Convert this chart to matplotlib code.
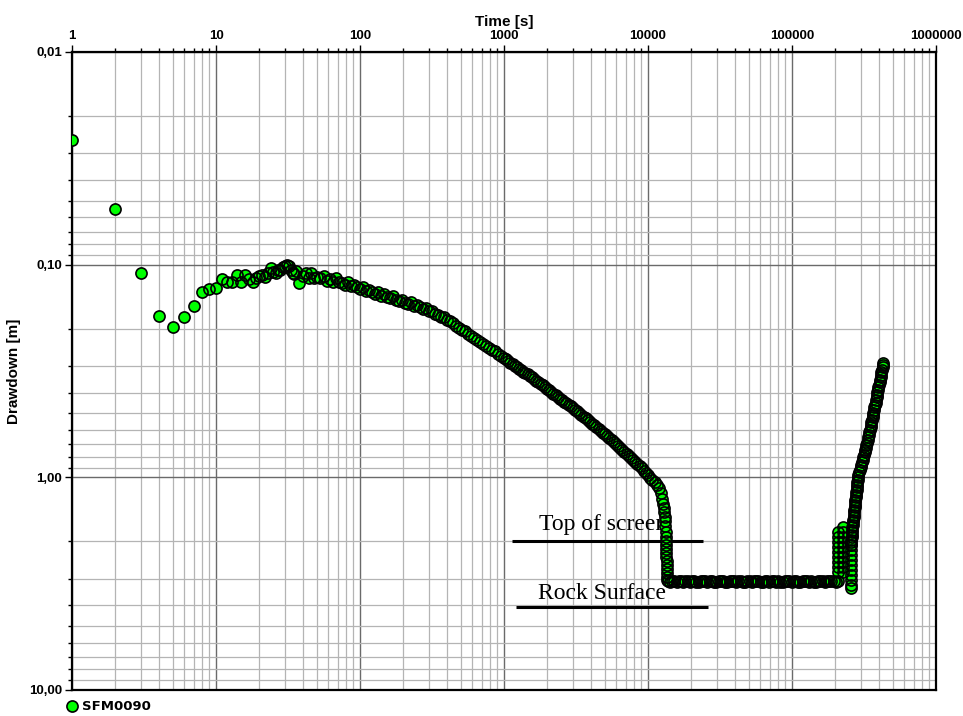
import numpy as np
import matplotlib
matplotlib.use("Agg")
import matplotlib.pyplot as plt
from matplotlib.ticker import FixedLocator, FixedFormatter, LogLocator, NullFormatter
from matplotlib.legend_handler import HandlerTuple

plt.rcParams["font.family"] = ["Liberation Sans", "DejaVu Sans"]

# ---- data (time in s, drawdown in m) ----
# first minute, one reading per second
t_early = [1, 2, 3, 4, 5, 6, 7, 8, 9, 10,
           11, 12, 13, 14, 15, 16, 17, 18, 19, 20,
           21, 22, 23, 24, 25, 26, 27, 28, 29, 30,
           31, 32, 33, 34, 35, 36, 38, 40, 42, 44,
           46, 48, 50]
s_early = [0.0259, 0.0547, 0.109, 0.174, 0.196, 0.176, 0.156, 0.134, 0.130, 0.129,
           0.117, 0.121, 0.121, 0.112, 0.120, 0.112, 0.117, 0.120, 0.115, 0.113,
           0.112, 0.114, 0.109, 0.104, 0.108, 0.110, 0.106, 0.106, 0.103, 0.101,
           0.100, 0.102, 0.106, 0.109, 0.111, 0.107, 0.122, 0.113, 0.110, 0.116,
           0.109, 0.115, 0.114]

# pumping, drawdown growing
t_pump = [53, 56, 59, 62, 65, 68, 71, 75, 79, 83,
          87, 91, 96, 100, 105, 110, 115, 121, 127, 133,
          140, 147, 154, 161, 169, 178, 187, 196, 205, 215,
          226, 237, 249, 260, 273, 287, 301, 316, 331, 348,
          365, 383, 402, 420, 441, 463, 486, 510, 534, 561,
          589, 618, 649, 679, 713, 749, 786, 825, 863, 906,
          951, 999,
          1035, 1071, 1109, 1148, 1188, 1229, 1272, 1317, 1363, 1410,
          1460, 1511, 1564, 1618, 1675, 1734, 1794, 1857, 1922, 1989,
          2059, 2131, 2206, 2283, 2363, 2445, 2531, 2620, 2711, 2806,
          2904, 3006, 3111, 3220, 3333, 3449, 3570, 3695, 3824, 3958,
          4097, 4240, 4388, 4542, 4701, 4865, 5036, 5212, 5394, 5583,
          5778, 5981, 6190, 6407, 6631, 6863, 7103, 7352, 7609, 7876,
          8151, 8437, 8732, 9038, 9354, 9682, 10020, 10370, 10740, 11110,
          11500, 11900, 12320]
s_pump = [0.116, 0.113, 0.119, 0.117, 0.121, 0.116, 0.120, 0.122, 0.124, 0.121,
          0.126, 0.124, 0.128, 0.130, 0.127, 0.133, 0.131, 0.135, 0.137, 0.134,
          0.140, 0.138, 0.142, 0.143, 0.141, 0.146, 0.148, 0.146, 0.151, 0.153,
          0.150, 0.156, 0.155, 0.159, 0.161, 0.160, 0.165, 0.166, 0.170, 0.172,
          0.176, 0.177, 0.182, 0.185, 0.189, 0.195, 0.199, 0.202, 0.206, 0.211,
          0.216, 0.221, 0.225, 0.230, 0.235, 0.241, 0.247, 0.252, 0.256, 0.262,
          0.268, 0.274,
          0.279, 0.284, 0.289, 0.294, 0.299, 0.304, 0.309, 0.314, 0.319, 0.323,
          0.328, 0.334, 0.339, 0.345, 0.351, 0.357, 0.363, 0.369, 0.376, 0.383,
          0.390, 0.397, 0.404, 0.412, 0.419, 0.426, 0.433, 0.441, 0.448, 0.456,
          0.464, 0.472, 0.481, 0.490, 0.499, 0.508, 0.518, 0.528, 0.538, 0.548,
          0.559, 0.570, 0.581, 0.592, 0.604, 0.616, 0.628, 0.641, 0.654, 0.668,
          0.682, 0.696, 0.711, 0.726, 0.741, 0.757, 0.774, 0.791, 0.809, 0.828,
          0.847, 0.867, 0.887, 0.908, 0.930, 0.953, 0.977, 1.002, 1.028, 1.055,
          1.085, 1.125, 1.180]

# level falls past the screen
t_drop = [12500, 12700, 12850, 12950, 13050, 13120, 13180, 13230, 13270, 13310,
          13340, 13370, 13400, 13430, 13460, 13490, 13520, 13550, 13580, 13610]
s_drop = [1.26, 1.33, 1.40, 1.46, 1.53, 1.61, 1.70, 1.80, 1.90, 1.99,
          2.08, 2.17, 2.27, 2.37, 2.47, 2.58, 2.70, 2.82, 2.94, 3.04]

# sitting on the rock surface
t_dry = [13700, 14190, 14700, 15230, 15780, 16350, 16940, 17550, 18180, 18830,
         19510, 20210, 20940, 21690, 22470, 23280, 24120, 24990, 25890, 26820,
         27790, 28790, 29820, 30900, 32010, 33160, 34350, 35590, 36870, 38200,
         39570, 41000, 42470, 44000, 45590, 47230, 48930, 50690, 52520, 54410,
         56370, 58400, 60500, 62680, 64930, 67270, 69690, 72200, 74800, 77490,
         80280, 83170, 86170, 89270, 92480, 95810, 99260, 102800, 106500, 110400,
         114300, 118500, 122700, 127200, 131700, 136500, 141400, 146500, 151800, 157200,
         162900, 168700, 174800, 181100, 187600, 194400, 201400, 208600]
s_dry = [3.08, 3.09, 3.07, 3.08, 3.10, 3.08, 3.07, 3.09, 3.08, 3.08,
         3.09, 3.07, 3.08, 3.10, 3.09, 3.08, 3.07, 3.08, 3.09, 3.08,
         3.08, 3.10, 3.09, 3.07, 3.08, 3.08, 3.09, 3.10, 3.08, 3.07,
         3.08, 3.09, 3.08, 3.08, 3.10, 3.09, 3.07, 3.08, 3.09, 3.08,
         3.07, 3.08, 3.09, 3.10, 3.08, 3.08, 3.09, 3.07, 3.08, 3.09,
         3.08, 3.10, 3.09, 3.08, 3.07, 3.08, 3.09, 3.08, 3.08, 3.09,
         3.10, 3.08, 3.07, 3.08, 3.09, 3.08, 3.10, 3.09, 3.08, 3.07,
         3.08, 3.09, 3.08, 3.06, 3.07, 3.08, 3.09, 3.08]

# pump stopped: three noisy bursts
t_burst = [209000, 209000, 209000, 209000, 209000, 209000, 209000, 209000, 209000,
           226000, 226000, 226000, 226000, 226000, 226000, 226000, 226000, 226000, 226000,
           256000, 256000, 256000, 256000, 256000, 256000, 256000, 256000, 256000, 256000]
s_burst = [1.806, 1.907, 2.013, 2.125, 2.243, 2.367, 2.499, 2.638, 2.784,
           1.711, 1.806, 1.907, 2.013, 2.125, 2.243, 2.367, 2.499, 2.638, 2.784,
           2.079, 2.194, 2.317, 2.445, 2.581, 2.725, 2.876, 3.037, 3.205, 3.311]

# recovery
t_recov = [256800, 257700, 258500, 259300, 260200, 260600, 261000, 262200, 263900, 265200,
           266500, 268200, 269500, 270300, 271600, 272900, 273800, 275100, 276000, 277300,
           278200, 279600, 280500, 281800, 282700, 284600, 286400, 287800, 289600, 292900,
           296200, 299500, 302900, 306300, 309200, 312700, 316200, 319300, 322400, 325500,
           329100, 332300, 335500, 338700, 341500, 344700, 348100, 350900, 353700, 356500,
           359400, 362300, 365200, 368100, 371100, 374000, 377000, 380100, 383100, 386200,
           389300, 392400, 394900, 398100, 401300, 405200, 408400, 412400, 415700, 418300,
           421700, 425100, 428500, 430600]
s_recov = [2.079, 2.023, 1.969, 1.917, 1.866, 1.816, 1.767, 1.720, 1.674, 1.630,
           1.586, 1.544, 1.503, 1.463, 1.424, 1.386, 1.349, 1.313, 1.278, 1.244,
           1.210, 1.178, 1.147, 1.116, 1.086, 1.057, 1.029, 1.001, 0.974, 0.948,
           0.923, 0.899, 0.875, 0.851, 0.828, 0.806, 0.785, 0.764, 0.743, 0.724,
           0.704, 0.686, 0.667, 0.649, 0.632, 0.615, 0.599, 0.583, 0.567, 0.552,
           0.537, 0.523, 0.509, 0.496, 0.482, 0.469, 0.457, 0.445, 0.433, 0.421,
           0.410, 0.399, 0.388, 0.378, 0.368, 0.358, 0.349, 0.339, 0.330, 0.321,
           0.313, 0.304, 0.296, 0.290]

x_ticks = [1, 10, 100, 1000, 10000, 100000, 1000000]
x_ticklabels = ["1", "10", "100", "1000", "10000", "100000", "1000000"]
y_ticks = [0.01, 0.1, 1, 10]
y_ticklabels = ["0,01", "0,10", "1,00", "10,00"]

GREEN = "#00ff00"
MS = 8.0

t = np.concatenate([t_early, t_pump, t_drop, t_dry, t_burst, t_recov])
s = np.concatenate([s_early, s_pump, s_drop, s_dry, s_burst, s_recov])

fig = plt.figure(figsize=(9.63, 7.16), dpi=100)
ax = fig.add_axes([72 / 963, 1 - 690 / 716, 864 / 963, 638 / 716])

ax.set_xscale("log")
ax.set_yscale("log")
ax.set_xlim(1, 1e6)
ax.set_ylim(10, 0.01)  # drawdown grows downwards

ax.xaxis.set_major_locator(FixedLocator(x_ticks))
ax.xaxis.set_major_formatter(FixedFormatter(x_ticklabels))
ax.xaxis.set_minor_locator(LogLocator(base=10, subs=range(2, 10), numticks=20))
ax.xaxis.set_minor_formatter(NullFormatter())
ax.yaxis.set_major_locator(FixedLocator(y_ticks))
ax.yaxis.set_major_formatter(FixedFormatter(y_ticklabels))
ax.yaxis.set_minor_locator(LogLocator(base=10, subs=range(2, 10), numticks=20))
ax.yaxis.set_minor_formatter(NullFormatter())

ax.xaxis.tick_top()
ax.xaxis.set_label_position("top")
ax.tick_params(axis="x", which="both", top=True, bottom=False, direction="out",
               width=1.0, color="black")
ax.tick_params(axis="y", which="both", left=True, right=False, direction="out",
               width=1.0, color="black")
ax.tick_params(which="major", length=5, pad=2, labelsize=9.5)
ax.tick_params(which="minor", length=3)
for lab in ax.get_xticklabels() + ax.get_yticklabels():
    lab.set_fontweight("bold")

ax.grid(which="major", color="#6a6a6a", lw=1.0)
ax.grid(which="minor", color="#b4b4b4", lw=0.9)
ax.set_axisbelow(True)
for sp in ax.spines.values():
    sp.set_linewidth(1.6)
    sp.set_color("black")

ax.set_xlabel("Time [s]", fontsize=11, fontweight="bold", labelpad=3)
ax.set_ylabel("Drawdown [m]", fontsize=11, fontweight="bold", labelpad=6)

# annotations, under the data
ax.hlines(1.985, 1130, 24000, colors="black", lw=2.2, zorder=2.5)
ax.hlines(4.08, 1211, 25980, colors="black", lw=2.2, zorder=2.5)
ax.text(1758, 1.767, "Top of screen", family="Liberation Serif", fontsize=17,
        va="baseline", ha="left", zorder=2.5)
ax.text(1730, 3.73, "Rock Surface", family="Liberation Serif", fontsize=17,
        va="baseline", ha="left", zorder=2.5)

# fills first, outlines on top: the densely logged stretches merge into a dark band
fill, = ax.plot(t, s, ls="none", marker="o", ms=MS, mfc=GREEN, mec="none", zorder=3)
edge, = ax.plot(t, s, ls="none", marker="o", ms=MS, mfc="none", mec="black",
                mew=1.2, zorder=3.1)

ax.legend(handles=[(fill, edge)], labels=["SFM0090"], loc="center left",
          handler_map={tuple: HandlerTuple(ndivide=1, pad=0)},
          bbox_to_anchor=(65 / 963, 1 - 707 / 716), bbox_transform=fig.transFigure,
          frameon=False, handlelength=1.0, handletextpad=0.3, borderpad=0,
          borderaxespad=0, numpoints=1,
          prop=dict(family="DejaVu Sans", weight="bold", size=9.5))

fig.savefig("out.png", dpi=100)
